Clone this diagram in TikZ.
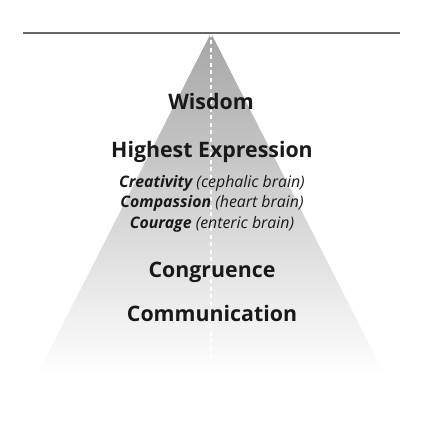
\documentclass[tikz,border=0pt]{standalone}
\usepackage{fontspec}
\setmainfont{Open Sans}
\usetikzlibrary{positioning}

\tikzset{
    heading/.style={text=black!90, font=\fontsize{16}{19}\selectfont\bfseries, inner sep=0pt},
    brainline/.style={text=black!90, font=\fontsize{11.9}{14}\selectfont\itshape, inner sep=0pt}
}

\begin{document}
\begin{tikzpicture}[x=0.75pt, y=0.75pt]
        \useasboundingbox (0,0) rectangle (429,423);
        % pyramid
        \coordinate (apex) at (211,390);
        \coordinate (baseL) at (37,48);
        \coordinate (baseR) at (385,48);
        \shade[top color=black!35, bottom color=white] (apex) -- (baseL) -- (baseR) -- cycle;
        \coordinate (roadend) at (211,62);
        \draw[white, line width=1.5pt, dash pattern=on 3pt off 2.6pt] (apex) -- (roadend);
        % top line
        \coordinate (lineL) at (23,390);
        \coordinate (lineR) at (400,390);
        \draw[color=black!60, line width=0.9pt] (lineL) -- (lineR);
        %
        \node[heading] (wisdom) at (211,321) {Wisdom};
        \node[heading] (highest) at (212,271) {Highest Expression};
        \node[brainline] (creativity) at (212,240) {\textbf{Creativity} (cephalic brain)};
        \node[brainline] (compassion) at (212,220) {\textbf{Compassion} (heart brain)};
        \node[brainline] (courage) at (212,199) {\textbf{Courage} (enteric brain)};
        \node[heading] (congruence) at (212,151) {Congruence};
        \node[heading] (communication) at (212,109) {Communication};
    \end{tikzpicture}
\end{document}
